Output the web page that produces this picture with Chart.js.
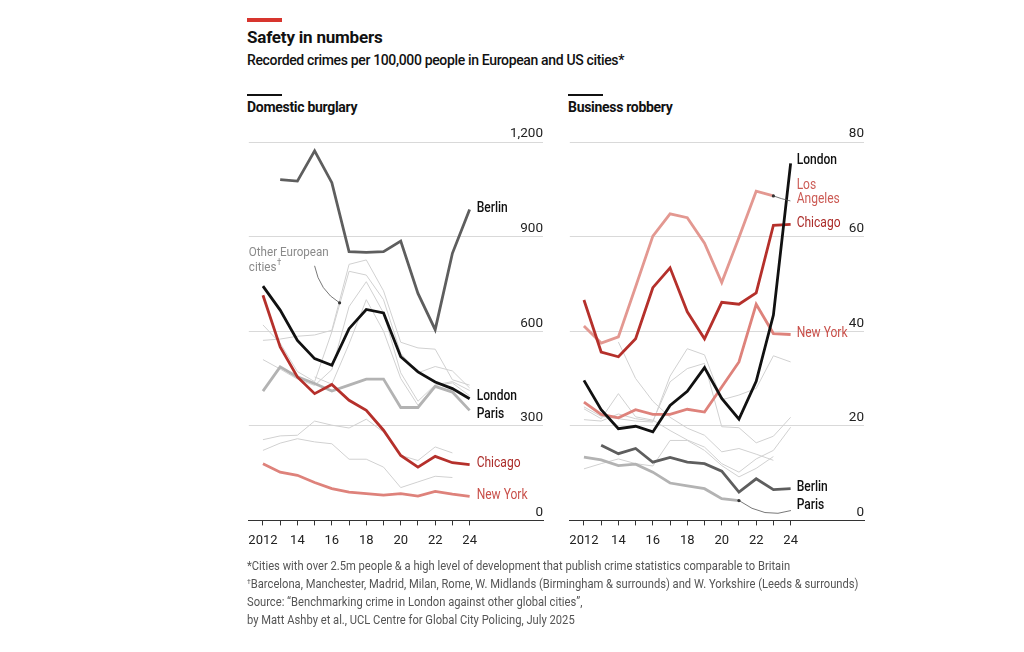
<!DOCTYPE html>
<html>
<head>
<meta charset="utf-8">
<script src="https://cdn.jsdelivr.net/npm/chart.js@4.4.0/dist/chart.umd.min.js"></script>
<style>
  body { margin: 0; background: #fff; width: 1024px; height: 652px; position: relative; overflow: hidden; font-family: Roboto, sans-serif; color: #111; }
  .redbar { position: absolute; left: 247px; top: 18px; width: 35px; height: 4px; background: #d7352e; }
  .title { position: absolute; left: 247px; top: 27px; font-size: 17px; font-weight: 700; letter-spacing: -0.2px; }
  .subtitle { position: absolute; left: 247px; top: 52px; font-size: 14px; font-weight: 500; letter-spacing: -0.35px; }
  .rule { position: absolute; top: 94px; width: 35px; height: 1.5px; background: #111; }
  .panel-title { position: absolute; top: 99px; font-size: 14px; font-weight: 700; letter-spacing: -0.3px; }
  canvas { position: absolute; }
  .notes { position: absolute; left: 247px; top: 557px; font-size: 13px; line-height: 18px; color: #555; white-space: nowrap; transform: scaleX(0.86); transform-origin: 0 0; }
  .notes sup { font-size: 8px; vertical-align: 4px; line-height: 0; }
</style>
</head>
<body>
<div class="redbar"></div>
<div class="title">Safety in numbers</div>
<div class="subtitle">Recorded crimes per 100,000 people in European and US cities*</div>
<div class="rule" style="left:247px"></div>
<div class="panel-title" style="left:247px">Domestic burglary</div>
<div class="rule" style="left:568px"></div>
<div class="panel-title" style="left:568px">Business robbery</div>

<canvas id="burglaryChart" width="310" height="436" style="left:240px;top:125px"></canvas>
<canvas id="robberyChart" width="310" height="436" style="left:561px;top:125px"></canvas>

<div class="notes">
  *Cities with over 2.5m people &amp; a high level of development that publish crime statistics comparable to Britain<br>
  <sup>†</sup>Barcelona, Manchester, Madrid, Milan, Rome, W. Midlands (Birmingham &amp; surrounds) and W. Yorkshire (Leeds &amp; surrounds)<br>
  Source: “Benchmarking crime in London against other global cities”,<br>
  by Matt Ashby et al., UCL Centre for Global City Policing, July 2025
</div>

<script>
// Years and tick labels
const years = [2012, 2013, 2014, 2015, 2016, 2017, 2018, 2019, 2020, 2021, 2022, 2023, 2024];
const xTickLabels = ['2012', '', '14', '', '16', '', '18', '', '20', '', '22', '', '24'];

const burglaryTicks = [0, 300, 600, 900, 1200];
const burglaryTickLabels = ['0', '300', '600', '900', '1,200'];
const robberyTicks = [0, 20, 40, 60, 80];
const robberyTickLabels = ['0', '20', '40', '60', '80'];

// Domestic burglary, per 100,000 people
const burglaryLondon  = [743, 667, 571, 513, 492, 608, 669, 658, 519, 471, 439, 418, 386];
const burglaryBerlin  = [null, 1081, 1076, 1172, 1071, 852, 850, 852, 886, 720, 605, 847, 986];
const burglaryParis   = [410, 487, 455, 434, 410, 429, 448, 448, 358, 358, 425, 407, 349];
const burglaryChicago = [714, 550, 455, 402, 431, 381, 349, 286, 206, 169, 203, 183, 177];
const burglaryNewYork = [180, 153, 143, 120, 101, 90, 85, 80, 85, 77, 92, 83, 76];
const burglaryEuroA = [571, 575, 584, 588, 603, 812, 826, 728, 565, 547, 543, 446, 429];
const burglaryEuroB = [510, 480, 448, 428, 478, 678, 757, 658, 468, 378, 430, 440, 412];
const burglaryEuroC = [620, 562, 472, 440, 598, 790, 778, 700, 530, 468, 488, 474, 420];
const burglaryEuroD = [null, null, null, 455, 432, 560, 700, 600, 450, 365, 428, 436, 395];
const burglaryEuroE = [256, 268, 270, 315, 302, 293, 321, 280, 206, 190, 233, 214, null];
const burglaryEuroF = [222, 245, 259, 249, 243, 194, 194, 169, 104, 122, 140, 136, null];

// Business robbery, per 100,000 people
const robberyLondon     = [29.6, 23.4, 19.4, 19.9, 18.7, 24.3, 27.3, 32.3, 25.8, 21.4, 29.4, 43.4, 75.5];
const robberyLosAngeles = [41.1, 37.5, 38.8, 49.4, 60.1, 64.8, 64.0, 58.6, 50.3, 59.8, 69.6, 68.6, null];
const robberyChicago    = [46.6, 35.6, 34.6, 38.4, 49.2, 53.4, 44.1, 38.4, 46.1, 45.7, 48.1, 62.4, 62.6];
const robberyNewYork    = [25.0, 22.4, 21.7, 23.4, 22.4, 22.4, 23.5, 22.9, 28.2, 33.5, 45.7, 39.5, 39.3];
const robberyBerlin     = [null, 15.9, 14.1, 15.2, 12.3, 13.3, 12.3, 12.0, 10.4, 6.0, 8.8, 6.5, 6.7];
const robberyParis      = [13.4, 12.8, 11.6, 11.9, 10.2, 7.9, 7.3, 6.7, 4.6, 4.2, null, null, null];
const robberyEuroA = [null, null, 37.7, 30.0, 25.2, 21.8, 19.5, 18.0, 14.5, 15.2, 14.0, 12.7, null];
const robberyEuroB = [24.0, 22.0, 21.5, 21.0, 20.8, 30.5, 36.3, 35.0, 25.5, 26.5, 27.9, 34.8, 33.5];
const robberyEuroC = [21.3, 21.0, 22.5, 21.5, 21.0, 29.3, 32.1, 33.2, 19.8, 19.6, 16.4, 17.8, 21.8];
const robberyEuroD = [23.6, 21.5, 26.8, 21.9, 21.2, 19.0, 17.0, 15.5, 12.0, 10.2, 13.0, 14.8, 19.7];
const robberyEuroE = [10.9, 12.0, 13.0, 12.0, 11.5, 16.9, 16.9, 14.8, 11.6, 9.2, 11.0, 13.5, null];

const LABEL_FONT = 'Roboto, sans-serif';
const SQUEEZE = 0.86; // narrow the labels, the source uses a condensed face

const colors = {
  london: '#111111',
  berlin: '#5e5e5e',
  paris: '#b3b3b3',
  chicago: '#b5302b',
  newYork: '#de827b',
  losAngeles: '#e39891',
  euro: '#d1d1d1'
};

function toPoints(values) {
  return years.map((yr, i) => ({ x: yr, y: values[i] }));
}

function lineSet(label, values, color, width) {
  return {
    label: label,
    data: toPoints(values),
    borderColor: color,
    borderWidth: width,
    pointRadius: 0,
    tension: 0,
    spanGaps: false,
    fill: false
  };
}

// Draws the direct labels and leader lines on top of the series
const panelText = {
  id: 'panelText',
  afterDatasetsDraw(chart, args, opts) {
    const { ctx } = chart;
    const xs = chart.scales.x;
    const ys = chart.scales.y;
    ctx.save();

    (opts.leaders || []).forEach(l => {
      const ax = xs.getPixelForValue(l.at[0]);
      const ay = ys.getPixelForValue(l.at[1]);
      ctx.strokeStyle = '#555';
      ctx.lineWidth = 0.8;
      ctx.beginPath();
      ctx.moveTo(ax, ay);
      ctx.quadraticCurveTo(ax + l.ctrl[0], ay + l.ctrl[1], ax + l.to[0], ay + l.to[1]);
      ctx.stroke();
      ctx.fillStyle = '#333';
      ctx.beginPath();
      ctx.arc(ax, ay, 1.6, 0, Math.PI * 2);
      ctx.fill();
    });

    (opts.labels || []).forEach(l => {
      const px = xs.getPixelForValue(l.x) + (l.dx || 0);
      const py = ys.getPixelForValue(l.y) + (l.dy || 0);
      ctx.save();
      ctx.translate(px, py);
      ctx.scale(SQUEEZE, 1);
      ctx.font = (l.weight || '500') + ' ' + (l.size || 14) + 'px ' + LABEL_FONT;
      ctx.fillStyle = l.color;
      ctx.textAlign = 'left';
      ctx.textBaseline = 'middle';
      l.lines.forEach((t, i) => {
        ctx.fillText(t, 0, i * 14.5);
        if (l.dagger && i === l.lines.length - 1) {
          const w = ctx.measureText(t).width;
          ctx.font = '9px ' + LABEL_FONT;
          ctx.fillText('†', w + 0.5, i * 14.5 - 5);
        }
      });
      ctx.restore();
    });

    ctx.restore();
  }
};

function makeOptions(tickValues, tickLabels, yMax, textOpts) {
  return {
    responsive: false,
    animation: false,
    layout: { padding: { left: 7, right: 7, top: 17, bottom: 4 } },
    plugins: {
      legend: { display: false },
      tooltip: { enabled: false },
      panelText: textOpts
    },
    scales: {
      x: {
        type: 'linear',
        min: 2011.18,
        max: 2028.26,
        afterBuildTicks: scale => { scale.ticks = years.map(v => ({ value: v })); },
        grid: { drawOnChartArea: false, drawTicks: true, tickLength: 5, color: '#333', lineWidth: 1 },
        border: { display: true, color: '#333', width: 1 },
        ticks: {
          autoSkip: false,
          maxRotation: 0,
          padding: 8,
          color: '#222',
          font: { family: LABEL_FONT, size: 13 },
          callback: (value, index) => xTickLabels[index]
        }
      },
      y: {
        position: 'right',
        min: 0,
        max: yMax,
        afterBuildTicks: scale => { scale.ticks = tickValues.map(v => ({ value: v })); },
        grid: {
          drawTicks: false,
          color: ctx => (ctx.tick && ctx.tick.value === 0 ? 'rgba(0,0,0,0)' : '#d9d9d9'),
          lineWidth: 1
        },
        border: { display: false },
        ticks: {
          mirror: true,
          padding: 0,
          labelOffset: -8,
          color: '#222',
          font: { family: LABEL_FONT, size: 13.5 },
          callback: (value, index) => tickLabels[index]
        }
      }
    }
  };
}

// Domestic burglary panel
new Chart(document.getElementById('burglaryChart'), {
  type: 'line',
  plugins: [panelText],
  data: {
    datasets: [
      lineSet('London', burglaryLondon, colors.london, 2.8),
      lineSet('Chicago', burglaryChicago, colors.chicago, 2.8),
      lineSet('New York', burglaryNewYork, colors.newYork, 2.8),
      lineSet('Berlin', burglaryBerlin, colors.berlin, 2.8),
      lineSet('Paris', burglaryParis, colors.paris, 2.8),
      lineSet('Euro A', burglaryEuroA, colors.euro, 1),
      lineSet('Euro B', burglaryEuroB, colors.euro, 1),
      lineSet('Euro C', burglaryEuroC, colors.euro, 1),
      lineSet('Euro D', burglaryEuroD, colors.euro, 1),
      lineSet('Euro E', burglaryEuroE, colors.euro, 1),
      lineSet('Euro F', burglaryEuroF, colors.euro, 1)
    ]
  },
  options: makeOptions(burglaryTicks, burglaryTickLabels, 1200, {
    labels: [
      { lines: ['Berlin'], x: 2024, y: 986, dx: 7, dy: -1, color: '#111' },
      { lines: ['London'], x: 2024, y: 386, dx: 7, dy: -2, color: '#111' },
      { lines: ['Paris'], x: 2024, y: 349, dx: 7, dy: 4, color: '#111' },
      { lines: ['Chicago'], x: 2024, y: 177, dx: 7, dy: -1, color: '#ab2a27', weight: '400' },
      { lines: ['New York'], x: 2024, y: 76, dx: 7, dy: -1, color: '#c9504a', weight: '400' },
      { lines: ['Other European', 'cities'], x: 2011.18, y: 848, dx: 0, dy: 0, color: '#8a8a8a', weight: '400', size: 13.5, dagger: true }
    ],
    leaders: [
      { at: [2016.45, 690], ctrl: [-20, -12], to: [-25, -37] }
    ]
  })
});

// Business robbery panel
new Chart(document.getElementById('robberyChart'), {
  type: 'line',
  plugins: [panelText],
  data: {
    datasets: [
      lineSet('London', robberyLondon, colors.london, 2.8),
      lineSet('Chicago', robberyChicago, colors.chicago, 2.8),
      lineSet('New York', robberyNewYork, colors.newYork, 2.8),
      lineSet('Los Angeles', robberyLosAngeles, colors.losAngeles, 2.8),
      lineSet('Berlin', robberyBerlin, colors.berlin, 2.8),
      lineSet('Paris', robberyParis, colors.paris, 2.8),
      lineSet('Euro A', robberyEuroA, colors.euro, 1),
      lineSet('Euro B', robberyEuroB, colors.euro, 1),
      lineSet('Euro C', robberyEuroC, colors.euro, 1),
      lineSet('Euro D', robberyEuroD, colors.euro, 1),
      lineSet('Euro E', robberyEuroE, colors.euro, 1)
    ]
  },
  options: makeOptions(robberyTicks, robberyTickLabels, 80, {
    labels: [
      { lines: ['London'], x: 2024, y: 75.5, dx: 6, dy: -3, color: '#111' },
      { lines: ['Los', 'Angeles'], x: 2024, y: 70.9, dx: 6, dy: 0, color: '#cc5b55', weight: '400' },
      { lines: ['Chicago'], x: 2024, y: 62.6, dx: 6, dy: -1, color: '#ab2a27', weight: '400' },
      { lines: ['New York'], x: 2024, y: 39.3, dx: 6, dy: -1, color: '#c9504a', weight: '400' },
      { lines: ['Berlin'], x: 2024, y: 6.7, dx: 6, dy: -1, color: '#111' },
      { lines: ['Paris'], x: 2024, y: 3.2, dx: 6, dy: 0, color: '#111' }
    ],
    leaders: [
      { at: [2023, 68.6], ctrl: [8, 3], to: [17, 5] },
      { at: [2021, 4.2], ctrl: [26, 19], to: [52, 10] }
    ]
  })
});
</script>
</body>
</html>
